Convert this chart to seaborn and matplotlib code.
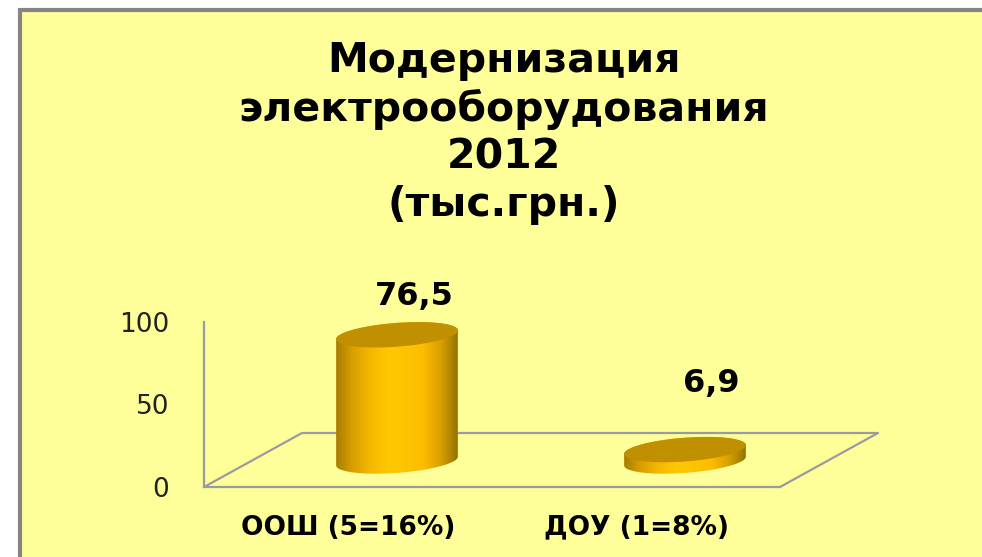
import numpy as np
import matplotlib
matplotlib.use("Agg")
import matplotlib.pyplot as plt
from matplotlib.colors import LinearSegmentedColormap
from matplotlib.patches import Polygon, Rectangle
from matplotlib.transforms import Affine2D
import seaborn as sns

# Datos del grafico
categorias = ['ООШ (5=16%)', 'ДОУ (1=8%)']
valores = [76.5, 6.9]
etiquetas = ['76,5', '6,9']
ticks_y = [0, 50, 100]
titulo = 'Модернизация\nэлектрооборудования\n2012\n(тыс.грн.)'

sns.set_theme(style="white")
plt.rcParams['font.family'] = ['DejaVu Sans']

W, H = 982, 557
fig = plt.figure(figsize=(W / 100, H / 100), dpi=100, facecolor='white')

# Fondo amarillo y suelo en coordenadas de pixel
fondo = fig.add_axes([0, 0, 1, 1], zorder=0)
fondo.set_xlim(0, W)
fondo.set_ylim(H, 0)
fondo.axis('off')
fondo.add_patch(Rectangle((20.5, 9.5), W, H, facecolor='#ffff99', edgecolor='#858585', linewidth=3))
GRIS = '#9a9aa0'
fondo.plot([204, 302, 878, 780], [487, 433, 433, 487], color=GRIS, linewidth=1.6)

# Ejes con las barras
ax = fig.add_axes([204 / W, (H - 487) / H, 576 / W, 165 / H], zorder=1)
ax.patch.set_alpha(0)
sns.barplot(x=categorias, y=valores, color='#ffc000', width=0.42, ax=ax)
ax.set_xlim(-0.5, 1.5)
ax.set_ylim(0, 100)
ax.set_yticks(ticks_y)
ax.tick_params(axis='y', length=0, pad=25, labelsize=19, labelcolor='#222222')
ax.tick_params(axis='x', length=0, pad=20, labelsize=19)
for t in ax.get_xticklabels():
    t.set_fontweight('bold')
    t.set_color('#000000')
for lado in ['top', 'right']:
    ax.spines[lado].set_visible(False)
for lado in ['left', 'bottom']:
    ax.spines[lado].set_color(GRIS)
    ax.spines[lado].set_linewidth(1.6)

# Capa superior para los cilindros
capa = fig.add_axes([0, 0, 1, 1], zorder=2)
capa.patch.set_alpha(0)
capa.axis('off')
capa.set_xlim(0, W)
capa.set_ylim(H, 0)

degradado = LinearSegmentedColormap.from_list(
    'oro', ['#a67a00', '#d9a000', '#f5b800', '#ffc800', '#ffc400', '#fcbc00', '#d8a000', '#8f7000'])

DX, DY = 49, 26  # desplazamiento de la barra hacia el fondo
A, B, GIRO = 61, 12, np.radians(4)


def arco(cx, cy, t0, t1):
    t = np.linspace(t0, t1, 80)
    x = cx + A * np.cos(t) * np.cos(GIRO) - B * np.sin(t) * np.sin(GIRO)
    y = cy - A * np.cos(t) * np.sin(GIRO) + B * np.sin(t) * np.cos(GIRO)
    return np.column_stack([x, y])


a_pixel = fondo.transData.inverted()
for barra in ax.patches:
    x0, y0 = a_pixel.transform(ax.transData.transform((barra.get_x(), 0)))
    x1, y1 = a_pixel.transform(ax.transData.transform((barra.get_x() + barra.get_width(), barra.get_height())))
    cx = (x0 + x1) / 2 + DX
    base = y0 - DY
    tope = y1 - DY

    cuerpo = Polygon(np.vstack([arco(cx, base, 0, np.pi), arco(cx, tope, np.pi, 2 * np.pi)]),
                     closed=True, transform=capa.transData)
    barra.set_transform(ax.transData + Affine2D().translate(DX, DY))
    barra.set_clip_path(cuerpo)

    im = capa.imshow(np.linspace(0, 1, 256)[None, :], cmap=degradado, aspect='auto',
                     extent=(cx - A - 1, cx + A + 1, base + 16, tope - 16), zorder=3)
    im.set_clip_path(cuerpo)
    capa.add_patch(Polygon(arco(cx, tope, 0, 2 * np.pi), closed=True, facecolor='#c09000',
                           edgecolor='none', zorder=4))
capa.set_xlim(0, W)
capa.set_ylim(H, 0)

# Etiquetas de valor
desp_x = [66, 75]
desp_y = [64, 92]
for i, (v, txt) in enumerate(zip(valores, etiquetas)):
    ax.annotate(txt, xy=(i, v), xycoords='data', xytext=(desp_x[i], desp_y[i]), textcoords='offset pixels',
                ha='center', va='center', fontsize=23, fontweight='bold', color='#000000',
                annotation_clip=False)

# Titulo
fig.text(504 / W, 1 - 133 / H, titulo, ha='center', va='center', fontsize=29.5, fontweight='bold',
         color='#000000', linespacing=1.25)

fig.savefig('out.png', dpi=100)
